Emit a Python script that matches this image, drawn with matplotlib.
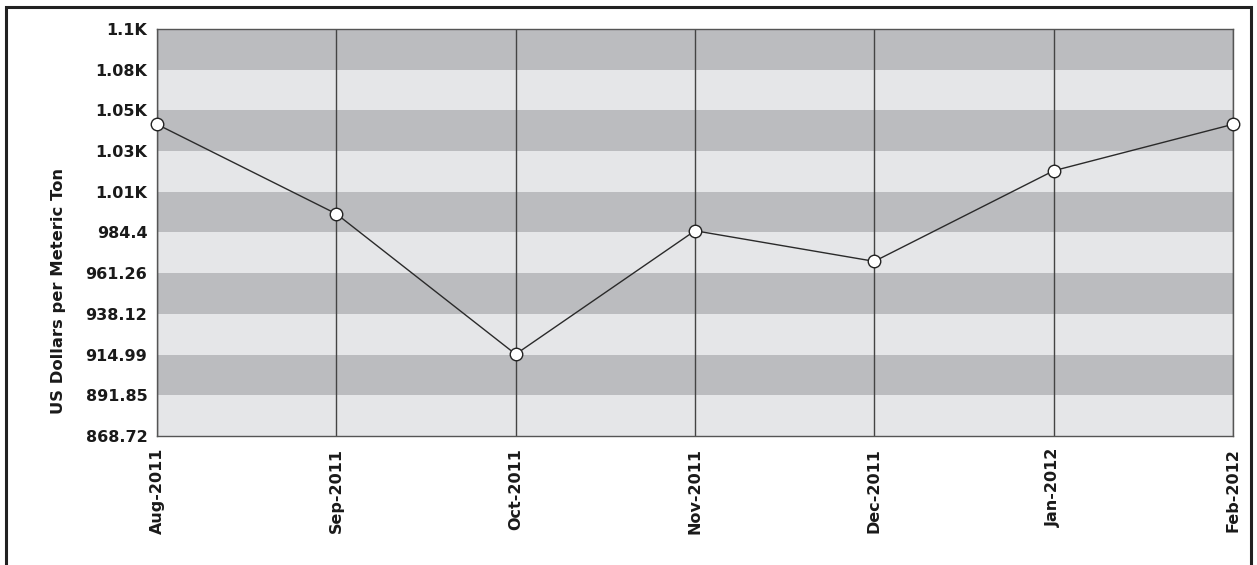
import matplotlib
matplotlib.use("Agg")
import matplotlib.pyplot as plt
from matplotlib.patches import Rectangle
import numpy as np

months = ["Aug-2011", "Sep-2011", "Oct-2011", "Nov-2011", "Dec-2011", "Jan-2012", "Feb-2012"]
prices = [1045.9, 995.0, 915.2, 985.4, 968.0, 1019.5, 1045.9]

y_ticks = [868.72, 891.85, 914.99, 938.12, 961.26, 984.40, 1007.54, 1030.67, 1053.81, 1076.94, 1100.08]
y_tick_labels = ["868.72", "891.85", "914.99", "938.12", "961.26", "984.4",
                 "1.01K", "1.03K", "1.05K", "1.08K", "1.1K"]

plt.rcParams["font.family"] = ["DejaVu Sans"]
plt.rcParams["font.weight"] = "bold"

fig = plt.figure(figsize=(12.57, 5.65), dpi=100)
ax = fig.add_axes([0.1249, 0.2283, 0.8560, 0.7204])

x = np.arange(len(months))

# alternating horizontal bands between y ticks
band_dark = "#bbbcbf"
band_light = "#e5e6e8"
for i in range(len(y_ticks) - 1):
    color = band_light if i % 2 == 0 else band_dark
    ax.axhspan(y_ticks[i], y_ticks[i + 1], color=color, lw=0, zorder=0)

# vertical grid at each month
for xi in x:
    ax.axvline(xi, color="#444444", lw=1.0, zorder=1)

ax.plot(x, prices, color="#2a2a2a", lw=1.0, marker="o", markersize=9,
        markerfacecolor="white", markeredgecolor="#222222", markeredgewidth=1.0,
        zorder=3, clip_on=False)

ax.set_xlim(x[0], x[-1])
ax.set_ylim(y_ticks[0], y_ticks[-1])
ax.set_yticks(y_ticks)
ax.set_yticklabels(y_tick_labels)
ax.set_xticks(x)
ax.set_xticklabels(months, rotation=90)
ax.tick_params(axis="both", length=0, labelsize=11.5, colors="#1a1a1a")
ax.tick_params(axis="y", pad=7)
ax.tick_params(axis="x", pad=8.5)
for lbl in ax.get_xticklabels() + ax.get_yticklabels():
    lbl.set_fontweight("bold")

for s in ax.spines.values():
    s.set_color("#555555")
    s.set_linewidth(1.0)

ax.set_ylabel("US Dollars per Meteric Ton", fontsize=11.8, fontweight="bold",
              color="#1a1a1a")
ax.yaxis.set_label_coords(-0.085, 0.356)

# outer frame around the whole figure
fig.patches.append(Rectangle((6 / 1257, -0.05), 1245 / 1257, 1.05 - 7 / 565,
                             transform=fig.transFigure, fill=False,
                             edgecolor="#222222", lw=2.2, zorder=10))

fig.savefig("out.png", dpi=100)
